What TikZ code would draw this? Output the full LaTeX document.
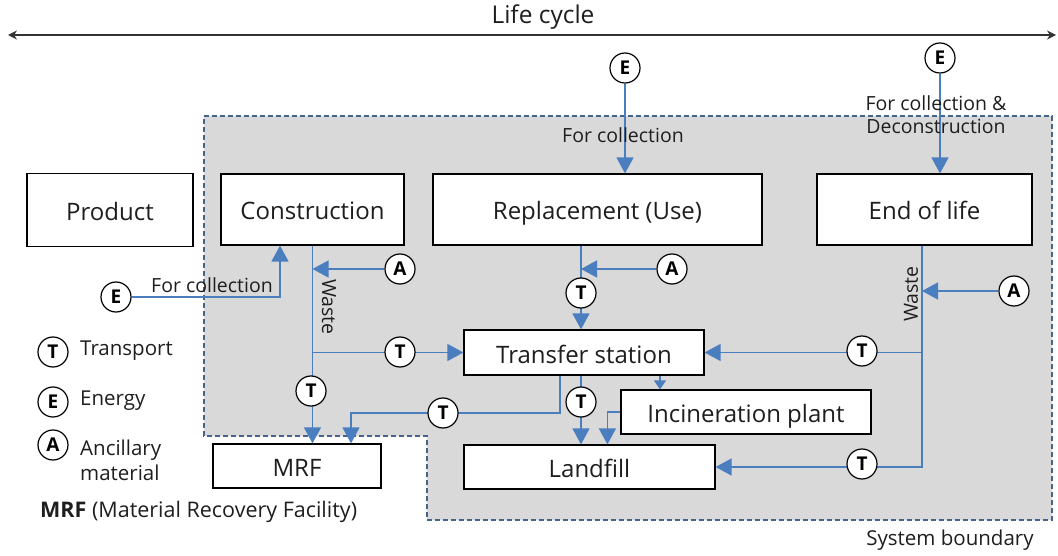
\documentclass[tikz,border=0pt]{standalone}
\usepackage{fontspec}
\setmainfont{Open Sans}
\usetikzlibrary{arrows.meta}
\definecolor{flowblue}{RGB}{74,126,190}
\definecolor{bnd}{RGB}{68,100,140}
\definecolor{greyfill}{RGB}{217,217,217}
\definecolor{txt}{RGB}{30,30,30}
\tikzset{
  box/.style={draw=black,line width=1.2pt,fill=white,inner sep=0pt,font=\fontsize{24}{28}\selectfont,text=txt,text height=23pt,text depth=2pt},
  circ/.style={circle,draw=black,line width=1.2pt,fill=white,minimum size=30pt,inner sep=0pt,font=\fontsize{19}{20}\selectfont\bfseries},
  flow/.style={draw=flowblue,line width=1.4pt,-{Triangle[width=17pt,length=16pt]}},
  sflow/.style={draw=flowblue,line width=1.4pt,-{Triangle[width=12pt,length=9pt]}},
  bline/.style={draw=flowblue,line width=1.4pt},
  lbl/.style={font=\fontsize{19.5}{23}\selectfont,text=txt,inner sep=0pt},
}
\begin{document}
\begin{tikzpicture}[x=1pt,y=-1pt]
\useasboundingbox (0,0) rectangle (1058,556);
% system boundary
\draw[bnd,fill=greyfill,line width=1.5pt,dash pattern=on 5pt off 3pt]
  (204,116) -- (1052,116) -- (1052,520) -- (427,520) -- (427,436) -- (204,436) -- cycle;
\node[lbl,font=\fontsize{20.5}{24}\selectfont] (sb) at (950,540) {System boundary};
% life cycle
\node[lbl,font=\fontsize{24.5}{28}\selectfont] (lc) at (543,17) {Life cycle};
\coordinate (lcl) at (8,35);
\coordinate (lcr) at (1056,35);
\draw[line width=1.5pt,draw=black!80,{Stealth[length=9pt,width=9pt]}-{Stealth[length=9pt,width=9pt]}] (lcl) -- (lcr);
% boxes
\node[box,minimum width=166pt,minimum height=73pt] (prod) at (110,210) {Product};
\node[box,minimum width=183pt,minimum height=71pt] (cons) at (312.5,209.5) {Construction};
\node[box,minimum width=329pt,minimum height=71pt] (repl) at (597.5,209.5) {Replacement (Use)};
\node[box,minimum width=215pt,minimum height=71pt] (eol) at (924.5,209.5) {End of life};
\node[box,minimum width=240pt,minimum height=45pt] (ts) at (584,352.5) {Transfer station};
\node[box,minimum width=250pt,minimum height=44pt] (ip) at (746,412) {Incineration plant};
\node[box,minimum width=251pt,minimum height=44pt] (lf) at (589.5,467) {Landfill};
\node[box,minimum width=168pt,minimum height=44pt] (mrf) at (297,466) {MRF};
% energy / ancillary circles
\node[circ] (E1) at (625,68) {E};
\node[circ] (E2) at (940,58) {E};
\node[circ] (E3) at (116,297) {E};
\node[circ] (A1) at (400,269) {A};
\node[circ] (A2) at (672,269) {A};
\node[circ] (A3) at (1014,291) {A};
% energy flows
\draw[flow] (E1) -- (E1 |- repl.north);
\node[lbl] (fc1) at (623,135) {For collection};
\draw[flow] (E2) -- (E2 |- eol.north);
\node[lbl,align=center] (fc2) at (936,115) {For collection \&\\Deconstruction};
\draw[flow] (E3) -| ([xshift=-32.5pt]cons.south);
\node[lbl] (fc3) at (212,285) {For collection};
% construction waste
\coordinate (cw) at (cons.south);
\coordinate (cj) at (cw |- ts.west);
\draw[bline] (cw) -- (cj);
\draw[flow] (cj) -- (ts.west);
\draw[flow] (cj) -- (cj |- mrf.north);
\draw[flow] (A1) -- (A1 -| cw);
\node[lbl,rotate=-90] (w1) at (329,307) {Waste};
% replacement
\coordinate (r1) at ([xshift=-16.5pt]repl.south);
\draw[flow] (r1) -- (r1 |- ts.north);
\draw[flow] (A2) -- (A2 -| r1);
% end of life
\coordinate (e1) at ([xshift=-2.5pt]eol.south);
\draw[flow] (e1) |- (lf.east);
\draw[flow] (e1 |- ts.east) -- (ts.east);
\draw[flow] (A3) -- (A3 -| e1);
\node[lbl,rotate=90] (w2) at (911,294) {Waste};
% transfer station outputs
\coordinate (t1) at ([xshift=-24pt]ts.south);
\coordinate (m1) at ([xshift=54pt]mrf.north);
\draw[flow] (t1) |- (m1 |- 0,413) -- (m1);
\coordinate (t2) at ([xshift=-3pt]ts.south);
\draw[flow] (t2) -- (t2 |- lf.north);
\coordinate (t3) at ([xshift=76pt]ts.south);
\draw[sflow] (t3) -- (t3 |- ip.north);
\draw[flow] (ip.west) -| ([xshift=144pt]lf.north west);
% transport circles
\node[circ] (T1) at (400,352) {T};
\node[circ] (T2) at (311,391) {T};
\node[circ] (T3) at (581,293) {T};
\node[circ] (T4) at (443,413) {T};
\node[circ] (T5) at (581,402) {T};
\node[circ] (T6) at (862,351) {T};
\node[circ] (T7) at (862,464) {T};
% legend
\node[circ] (LT) at (53,352) {T};
\node[lbl,anchor=west,font=\fontsize{20.5}{24}\selectfont] (LTt) at (80,351) {Transport};
\node[circ] (LE) at (53,402) {E};
\node[lbl,anchor=west,font=\fontsize{20.5}{24}\selectfont] (LEt) at (80,401) {Energy};
\node[circ] (LA) at (53,445) {A};
\node[lbl,anchor=west,align=left,font=\fontsize{20.5}{25}\selectfont] (LAt) at (80,460) {Ancillary\\material};
\node[lbl,anchor=west,font=\fontsize{21.5}{25}\selectfont] (mrfl) at (40,512) {\textbf{MRF} (Material Recovery Facility)};
\end{tikzpicture}
\end{document}
